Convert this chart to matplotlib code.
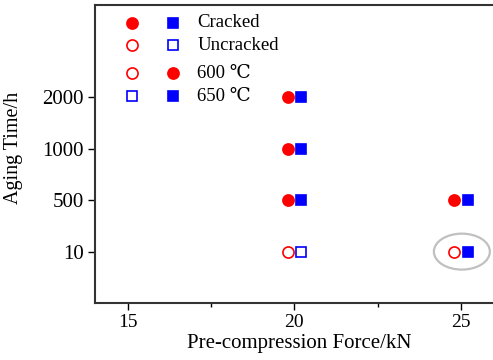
import matplotlib
matplotlib.use("Agg")
import matplotlib.pyplot as plt
from matplotlib.patches import Ellipse
from matplotlib.ticker import FixedLocator

plt.rcParams['font.family'] = ['Liberation Serif', 'DejaVu Serif']
plt.rcParams['mathtext.fontset'] = 'stix'

# Data
time_labels = ["10", "500", "1000", "2000"]
force_ticks = [15, 20, 25]
# 600 °C specimens (circles): force, aging time, cracked?
f600 = [20, 20, 20, 20, 25, 25]
t600 = ["2000", "1000", "500", "10", "500", "10"]
c600 = [True, True, True, False, True, False]
# 650 °C specimens (squares)
f650 = [20, 20, 20, 20, 25, 25]
t650 = ["2000", "1000", "500", "10", "500", "10"]
c650 = [True, True, True, False, True, True]

RED = "#ff0000"
BLUE = "#0000ff"

fig = plt.figure(figsize=(4.93, 3.6), dpi=100)
ax = fig.add_axes([94.7/493, 57/360, (493-94.7)/493 + 0.02, (303-5)/360])

ypos = {lab: i for i, lab in enumerate(time_labels)}
off = 0.2
for f, t, c in zip(f600, t600, c600):
    ax.plot(f - off, ypos[t], 'o', ms=8, mec=RED, mfc=RED if c else 'white', mew=1.2)
for f, t, c in zip(f650, t650, c650):
    ax.plot(f + off, ypos[t], 's', ms=7, mec=BLUE, mfc=BLUE if c else 'white', mew=1.2)

# highlight ellipse around 25 kN / 10 h
ax.add_patch(Ellipse((25.03, ypos["10"]), 1.68, 0.7, fill=False, ec="#c0c0c0", lw=1.6, zorder=1))

ax.set_xlim(14.01, 26.26)
ax.set_ylim(-1, 4.8)
ax.set_xticks(force_ticks)
ax.xaxis.set_minor_locator(FixedLocator([17.5, 22.5]))
ax.set_yticks(range(len(time_labels)))
ax.set_yticklabels(time_labels)
ax.tick_params(axis='both', which='major', direction='out', length=5, width=1, pad=3)
ax.tick_params(axis='x', which='major', labelsize=14)
ax.tick_params(axis='y', which='major', labelsize=15)
ax.tick_params(axis='x', which='minor', direction='out', length=3, width=1)
ax.spines['right'].set_visible(False)
for s in ['left', 'bottom', 'top']:
    ax.spines[s].set_linewidth(1.5)
    ax.spines[s].set_color("#333333")
ax.set_xlabel("Pre-compression Force/kN", fontsize=15, labelpad=2)
ax.set_ylabel("Aging Time/h", fontsize=14.5, labelpad=5)
ax.yaxis.set_label_coords(-0.175, 0.52)

# custom legend
rows = [0.937, 0.874, 0.797, 0.733]
xr, xb, xt = 131.7/493, 172.7/493, 197.3/493
def mk(x, y, m, col, filled, ms):
    fig.add_artist(plt.Line2D([x], [y], marker=m, ms=ms, mec=col, mfc=col if filled else 'white',
                              mew=1.2, ls='none', transform=fig.transFigure))
mk(xr, rows[0], 'o', RED, True, 8); mk(xb, rows[0], 's', BLUE, True, 7)
mk(xr, rows[1], 'o', RED, False, 8); mk(xb, rows[1], 's', BLUE, False, 7)
mk(xr, rows[2], 'o', RED, False, 8); mk(xb, rows[2], 'o', RED, True, 8)
mk(xr, rows[3], 's', BLUE, False, 7); mk(xb, rows[3], 's', BLUE, True, 7)
labels = ["Cracked", "Uncracked", "600 ℃", "650 ℃"]
for y, lab in zip(rows, labels):
    fig.text(xt, y, lab, fontsize=13.5, va='center', ha='left')

fig.savefig("out.png", dpi=100)
